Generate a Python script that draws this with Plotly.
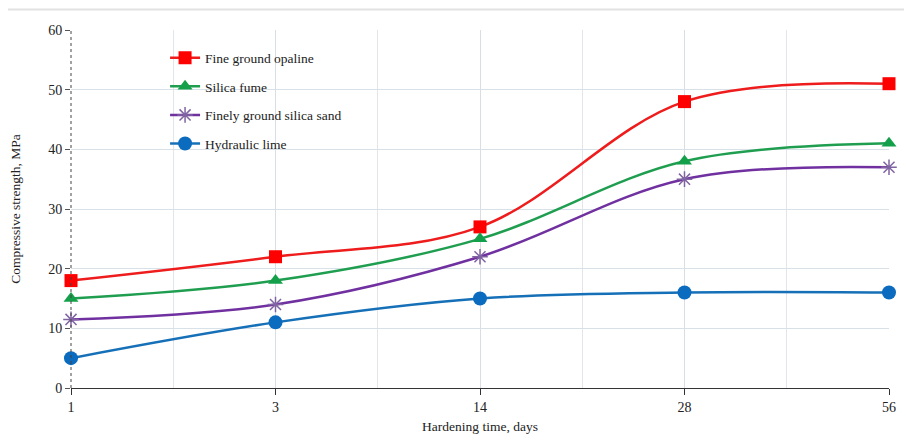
import plotly.graph_objects as go

days = ["1", "3", "14", "28", "56"]
x_pos = [0, 1, 2, 3, 4]

opaline = [18, 22, 27, 48, 51]
silica_fume = [15, 18, 25, 38, 41]
silica_sand = [11.5, 14, 22, 35, 37]
hydraulic_lime = [5, 11, 15, 16, 16]

series = [
    ("Fine ground opaline", opaline, "#EE1C1C", "#FF0000", "square", 13),
    ("Silica fume", silica_fume, "#1F9E50", "#14A04A", "triangle-up", 13),
    ("Finely ground silica sand", silica_sand, "#7030A0", "#8064A2", "asterisk-open", 13),
    ("Hydraulic lime", hydraulic_lime, "#1670B8", "#0B6BBE", "circle", 14),
]

FONT = "Liberation Serif"

fig = go.Figure()
for i, (name, vals, lc, mc, sym, sz) in enumerate(series):
    mk = dict(symbol=sym, size=sz, color=mc)
    if sym == "asterisk-open":
        mk["line"] = dict(color=mc, width=1.5)
    fig.add_trace(go.Scatter(
        x=x_pos, y=vals, name=name, mode="lines+markers",
        line=dict(color=lc, width=2.5, shape="spline", smoothing=1),
        marker=mk, cliponaxis=False, legendgroup=f"g{i}",
    ))

# the page body has an 8px margin, so the figure is drawn 8px right and down
fig.update_layout(
    width=904, height=426,
    margin=dict(l=63, r=23, t=22, b=46),
    paper_bgcolor="white", plot_bgcolor="white",
    font=dict(family=FONT, size=13, color="#222"),
    showlegend=True,
    legend=dict(
        x=0.115, y=0.965, xanchor="left", yanchor="top",
        bgcolor="rgba(0,0,0,0)", font=dict(family=FONT, size=13.5, color="#222"),
        tracegroupgap=8, itemwidth=30,
    ),
    xaxis=dict(
        range=[0, 4], tickvals=x_pos, ticktext=days,
        showgrid=True, gridcolor="#DADDE3", gridwidth=1,
        minor=dict(dtick=0.5, tick0=0, showgrid=True, gridcolor="#E3E5EA", ticks=""),
        showline=True, linecolor="#333", linewidth=1.2,
        ticks="outside", ticklen=6, tickcolor="#333",
        tickfont=dict(family=FONT, size=14),
        title=dict(text="Hardening time, days", font=dict(family=FONT, size=13.5), standoff=10),
        zeroline=False, automargin=False,
    ),
    yaxis=dict(
        range=[0, 60], dtick=10,
        showgrid=True, gridcolor="#D8E0E8", gridwidth=1,
        showline=False, ticks="outside", ticklen=5, tickcolor="#555",
        tickfont=dict(family=FONT, size=14),
        title=dict(text="Compressive strength, MPa", font=dict(family=FONT, size=13.5), standoff=26),
        zeroline=False, automargin=False,
    ),
)

# dotted vertical axis line and thin frame line at the top of the image
fig.add_shape(type="line", xref="x domain", yref="y domain", x0=0, x1=0, y0=0, y1=1,
              line=dict(color="#444", width=1, dash="dot"), layer="above")
fig.add_shape(type="line", xref="paper", yref="paper", x0=-0.1, x1=1.05, y0=1.057, y1=1.057,
              line=dict(color="#E2E2E2", width=2))

fig.write_html("out.html")
